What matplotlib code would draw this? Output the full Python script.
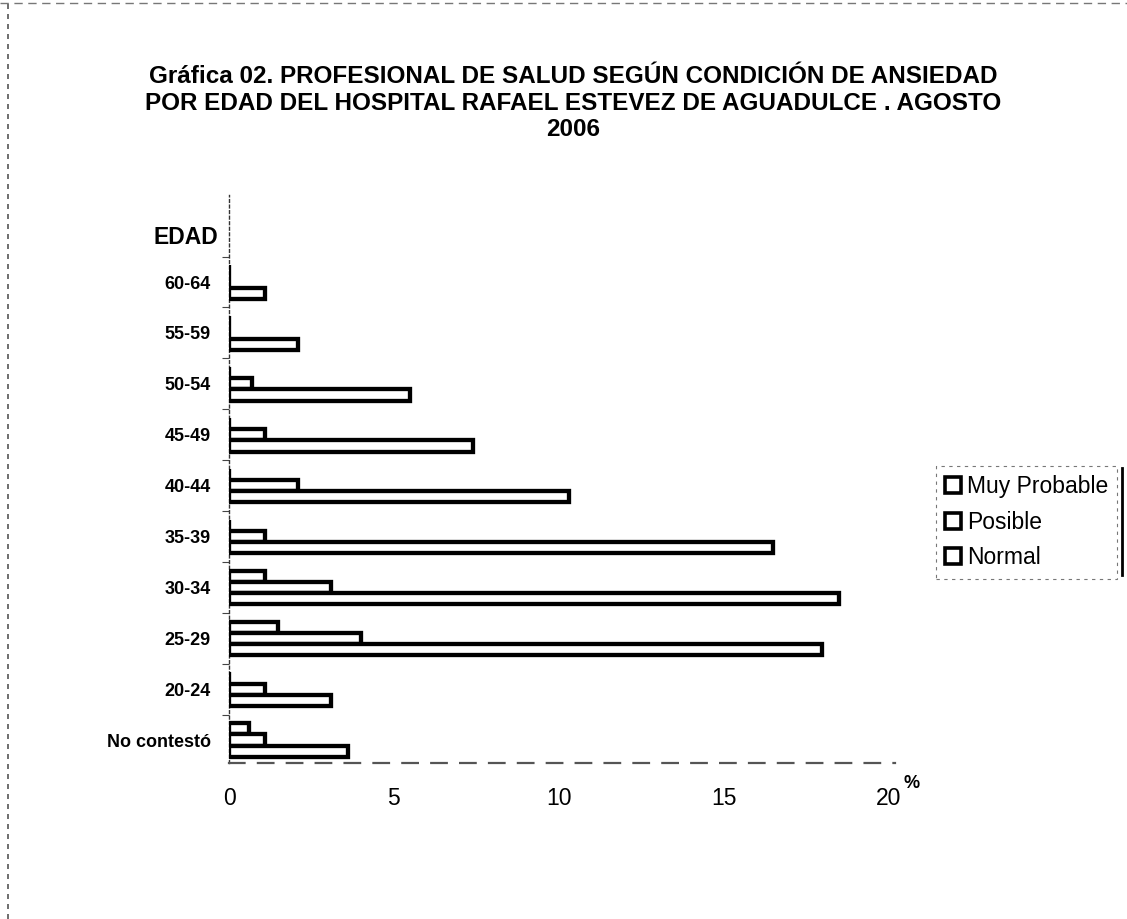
import matplotlib
matplotlib.use("Agg")
import matplotlib.pyplot as plt
from matplotlib.lines import Line2D
import numpy as np

plt.rcParams["font.family"] = ["Liberation Sans", "DejaVu Sans"]

# Age groups, bottom to top
edades = ["No contestó", "20-24", "25-29", "30-34", "35-39",
          "40-44", "45-49", "50-54", "55-59", "60-64"]

# Percentage of health professionals by anxiety condition
normal = [3.6, 3.1, 18.0, 18.5, 16.5, 10.3, 7.4, 5.5, 2.1, 1.1]
posible = [1.1, 1.1, 4.0, 3.1, 1.1, 2.1, 1.1, 0.7, 0.0, 0.0]
muy_probable = [0.6, 0.0, 1.5, 1.1, 0.0, 0.0, 0.0, 0.0, 0.0, 0.0]

series = ["Muy Probable", "Posible", "Normal"]
x_ticks = [0, 5, 10, 15, 20]

W, H = 1127, 919
fig = plt.figure(figsize=(W / 100, H / 100), dpi=100)
fig.patch.set_facecolor("white")

def fx(px):
    return px / W

def fy(py):
    return 1 - py / H

ax = fig.add_axes([fx(229), fy(763), fx(895) - fx(229), fy(195) - fy(763)])

y = np.arange(len(edades))
h = 0.22
bar_kw = dict(height=h, color="white", edgecolor="black", linewidth=3.1, zorder=3)
ax.barh(y + h, muy_probable, **bar_kw)
ax.barh(y, posible, **bar_kw)
ax.barh(y - h, normal, **bar_kw)

ax.set_xlim(0, 20.2)
ax.set_ylim(-0.45, 10.71)

ax.set_xticks(x_ticks)
ax.set_xticklabels([str(t) for t in x_ticks], fontsize=16.5)
ax.tick_params(axis="x", length=0, pad=17)

ax.set_yticks(y)
ax.set_yticklabels(edades, fontsize=13, fontweight="bold")
ax.tick_params(axis="y", which="major", length=0, pad=13)
ax.set_yticks(np.arange(0.5, len(edades), 1.0), minor=True)
ax.tick_params(axis="y", which="minor", length=5, width=0.8, color="#444444")

for side in ("top", "right"):
    ax.spines[side].set_visible(False)
ax.spines["left"].set_linestyle((0, (2, 2)))
ax.spines["left"].set_linewidth(1.0)
ax.spines["left"].set_color("#333333")
ax.spines["bottom"].set_linestyle((0, (7, 6)))
ax.spines["bottom"].set_linewidth(1.6)
ax.spines["bottom"].set_color("#555555")

# Title
fig.text(fx(573), fy(103),
         "Gráfica 02. PROFESIONAL DE SALUD SEGÚN CONDICIÓN DE ANSIEDAD\n"
         "POR EDAD DEL HOSPITAL RAFAEL ESTEVEZ DE AGUADULCE . AGOSTO\n"
         "2006",
         ha="center", va="center", fontsize=17.5, fontweight="bold",
         linespacing=1.17)

# Axis captions
fig.text(fx(218), fy(237), "EDAD", ha="right", va="center",
         fontsize=16.5, fontweight="bold")
fig.text(fx(912), fy(783), "%", ha="center", va="center",
         fontsize=13, fontweight="bold")

# Legend
handles = [plt.Rectangle((0, 0), 1, 1, facecolor="white", edgecolor="black",
                         linewidth=2.6) for _ in series]
leg = fig.legend(handles, series, loc="upper left",
                 bbox_to_anchor=(fx(936), fy(466)), borderaxespad=0,
                 fontsize=16.5, handlelength=0.7, handleheight=0.7,
                 handletextpad=0.25, labelspacing=0.55, borderpad=0.4,
                 frameon=True, fancybox=False)
frame = leg.get_frame()
frame.set_edgecolor("#555555")
frame.set_linestyle((0, (3, 4)))
frame.set_linewidth(0.8)
fig.add_artist(Line2D([fx(1122), fx(1122)], [fy(468), fy(575)],
                      color="black", linewidth=2.0))

# Page edges of the scanned sheet
fig.add_artist(Line2D([fx(8), fx(8)], [0, 1], color="#555555",
                      linewidth=1.2, linestyle=(0, (3, 3))))
fig.add_artist(Line2D([0, 1], [fy(3), fy(3)], color="#777777",
                      linewidth=1.0, linestyle=(0, (6, 4))))

fig.savefig("out.png", dpi=100, facecolor="white")
